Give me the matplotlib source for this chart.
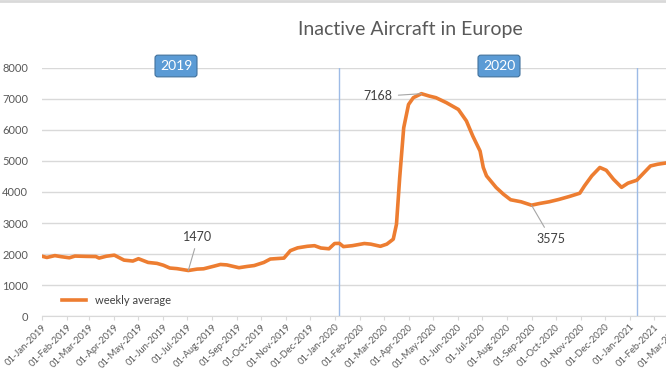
import pandas as pd
import matplotlib.pyplot as plt
import matplotlib.dates as mdates

plt.rcParams['font.family'] = ['Lato', 'DejaVu Sans']

# weekly average of inactive aircraft
dates = ["2019-01-01", "2019-01-07", "2019-01-17", "2019-01-25", "2019-02-04", "2019-02-11",
         "2019-02-25", "2019-03-09", "2019-03-13", "2019-03-22", "2019-04-01", "2019-04-13",
         "2019-04-24", "2019-05-01", "2019-05-13", "2019-05-24", "2019-06-01", "2019-06-09",
         "2019-06-18", "2019-07-02", "2019-07-13", "2019-07-21", "2019-08-03", "2019-08-11",
         "2019-08-19", "2019-09-03", "2019-09-13", "2019-09-22", "2019-10-04", "2019-10-12",
         "2019-10-29", "2019-11-06", "2019-11-15", "2019-11-27", "2019-12-06", "2019-12-14",
         "2019-12-24", "2019-12-31", "2020-01-06", "2020-01-11", "2020-01-22", "2020-02-06",
         "2020-02-14", "2020-02-26", "2020-03-05", "2020-03-13", "2020-03-17", "2020-03-21",
         "2020-03-26", "2020-04-01", "2020-04-07", "2020-04-17", "2020-04-27", "2020-05-05",
         "2020-05-18", "2020-06-02", "2020-06-12", "2020-06-20", "2020-06-29", "2020-07-03",
         "2020-07-07", "2020-07-19", "2020-07-28", "2020-08-06", "2020-08-19", "2020-09-01",
         "2020-09-11", "2020-09-23", "2020-10-05", "2020-10-18", "2020-10-31", "2020-11-06",
         "2020-11-15", "2020-11-25", "2020-12-03", "2020-12-12", "2020-12-22", "2020-12-30",
         "2021-01-10", "2021-01-17", "2021-01-27", "2021-02-05", "2021-02-14"]
values = [1930, 1890, 1950, 1915, 1880, 1935,
          1925, 1920, 1870, 1930, 1965, 1805,
          1775, 1850, 1730, 1700, 1640, 1550,
          1530, 1470, 1515, 1525, 1610, 1665,
          1650, 1560, 1600, 1630, 1730, 1840,
          1870, 2110, 2200, 2250, 2270, 2195,
          2170, 2340, 2345, 2240, 2270, 2340,
          2320, 2250, 2320, 2480, 2960, 4460,
          6070, 6820, 7040, 7168, 7090, 7040,
          6880, 6660, 6290, 5800, 5320, 4790,
          4520, 4145, 3930, 3750, 3685, 3575,
          3630, 3685, 3760, 3855, 3960, 4200,
          4520, 4790, 4700, 4410, 4150, 4285,
          4380, 4570, 4840, 4895, 4930]

year_lines = ["2020-01-06", "2021-01-10"]
labels = [("2019-07-02", 1470, 7, 24), ("2020-04-17", 7168, -31, -2), ("2020-09-01", 3575, 14, -24)]

df = pd.DataFrame({"date": pd.to_datetime(dates), "value": values})

fig = plt.figure(figsize=(6.66, 3.75), dpi=100)
ax = fig.add_axes([42 / 666, 0.157, 635 / 666, 0.662])

ax.plot(df["date"], df["value"], color="#ed7d31", lw=2.6, label="weekly average", zorder=3)

for d in year_lines:
    ax.axvline(pd.Timestamp(d), color="#9dbbe6", lw=1, zorder=2)

for d, v, dx, dy in labels:
    ax.annotate(str(v), xy=(pd.Timestamp(d), v), xytext=(dx, dy), textcoords="offset points",
                ha="center", va="center", fontsize=9, color="#404040",
                arrowprops=dict(arrowstyle="-", color="#a6a6a6", lw=0.8, shrinkB=0))

ax.set_ylim(0, 8000)
ax.set_xlim(pd.Timestamp("2019-01-01"), pd.Timestamp("2021-03-01"))
ax.set_yticks(range(0, 8001, 1000))
ax.xaxis.set_major_locator(mdates.MonthLocator())
ax.xaxis.set_major_formatter(mdates.DateFormatter("%d-%b-%Y"))
plt.setp(ax.get_xticklabels(), rotation=45, ha="right", rotation_mode="anchor")

ax.grid(axis="y", color="#d9d9d9", lw=1)
ax.set_axisbelow(True)
for s in ["top", "right", "left"]:
    ax.spines[s].set_visible(False)
ax.spines["bottom"].set_color("#d9d9d9")
ax.tick_params(axis="y", length=0, labelsize=8, labelcolor="#595959", pad=10)
ax.tick_params(axis="x", length=3, color="#d9d9d9", labelsize=6.8, labelcolor="#595959", pad=1.5)

ax.legend(loc="lower left", bbox_to_anchor=(0.015, 0.0), frameon=False, fontsize=8,
          handlelength=2.2, labelcolor="#404040")

fig.text(410 / 666, 1 - 30 / 375, "Inactive Aircraft in Europe", ha="center", va="center",
         fontsize=14, color="#595959")
for x, txt in [(176, "2019"), (499, "2020")]:
    fig.text(x / 666, 1 - 66 / 375, txt, ha="center", va="center", fontsize=10, color="white",
             bbox=dict(boxstyle="round,pad=0.35,rounding_size=0.2", fc="#5b9bd5", ec="#41719c", lw=0.8))

fig.add_artist(plt.Line2D([0, 1], [0.998, 0.998], color="#d9d9d9", lw=2))

fig.savefig("out.png", dpi=100)
